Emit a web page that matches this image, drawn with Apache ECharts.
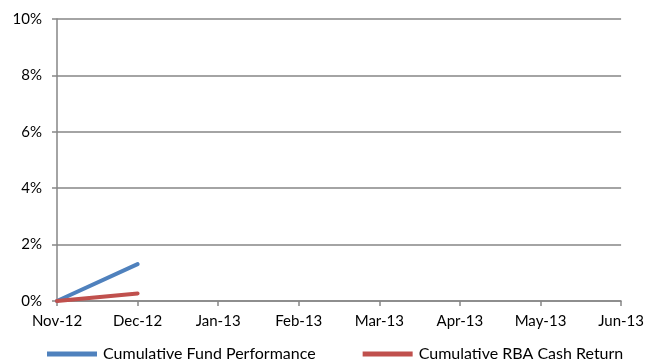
<!DOCTYPE html>
<html>
<head>
<meta charset="utf-8">
<script src="https://cdn.jsdelivr.net/npm/echarts@6/dist/echarts.min.js"></script>
<style>
  html, body { margin: 0; padding: 0; background: #fff; }
  #chart { width: 647px; height: 362px; }
</style>
</head>
<body>
<div id="chart"></div>
<script>
// Month labels along the x axis
const months = ['Nov-12', 'Dec-12', 'Jan-13', 'Feb-13', 'Mar-13', 'Apr-13', 'May-13', 'Jun-13'];
// Cumulative returns in percent; only the first two months are reported
const fundPerformance = [0, 1.31, null, null, null, null, null, null];
const rbaCashReturn = [0, 0.27, null, null, null, null, null, null];
const seriesNames = ['Cumulative Fund Performance', 'Cumulative RBA Cash Return'];

const axisGrey = '#868686';
const font = 'Lato, "Open Sans", sans-serif';
const barIcon = 'path://M0,0 L100,0 L100,10 L0,10 Z';

const chart = echarts.init(document.getElementById('chart'), null, { renderer: 'canvas' });
chart.setOption({
  animation: false,
  grid: { left: 57, right: 25, top: 19, bottom: 61, containLabel: false },
  legend: {
    top: 346,
    left: 42,
    padding: [0, 5],
    itemGap: 47,
    itemWidth: 52,
    itemHeight: 5,
    textStyle: { fontFamily: font, fontSize: 16, color: '#000', lineHeight: 16 },
    data: seriesNames.map(n => ({ name: n, icon: barIcon }))
  },
  xAxis: {
    type: 'category',
    data: months,
    boundaryGap: false,
    axisLine: { lineStyle: { color: axisGrey, width: 1.5 } },
    axisTick: { show: true, alignWithLabel: true, length: 5, lineStyle: { color: axisGrey, width: 1.5 } },
    axisLabel: { fontFamily: font, fontSize: 15, color: '#000', margin: 13 },
    splitLine: { show: false }
  },
  yAxis: {
    type: 'value',
    min: 0,
    max: 10,
    interval: 2,
    axisLine: { show: true, lineStyle: { color: axisGrey, width: 1.5 } },
    axisTick: { show: true, length: 5, lineStyle: { color: axisGrey, width: 1.5 } },
    axisLabel: { fontFamily: font, fontSize: 15, color: '#000', margin: 15, formatter: '{value}%' },
    splitLine: { show: true, lineStyle: { color: axisGrey, width: 1.5 } }
  },
  series: [
    {
      name: seriesNames[0],
      type: 'line',
      data: fundPerformance,
      symbol: 'none',
      lineStyle: { color: '#4F81BD', width: 4, cap: 'round' },
      itemStyle: { color: '#4F81BD' }
    },
    {
      name: seriesNames[1],
      type: 'line',
      data: rbaCashReturn,
      symbol: 'none',
      lineStyle: { color: '#C0504D', width: 4, cap: 'round' },
      itemStyle: { color: '#C0504D' }
    }
  ]
});
</script>
</body>
</html>
